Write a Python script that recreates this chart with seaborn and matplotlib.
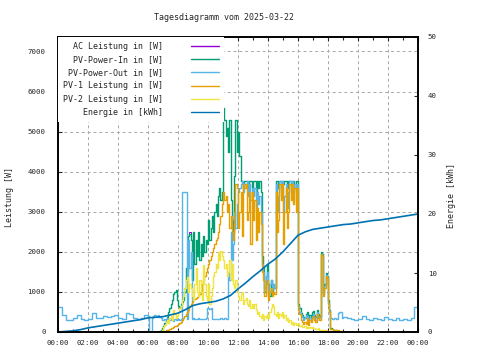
"""
Tagesdiagramm PV-Anlage (gnuplot-Stil) mit seaborn nachgebaut
"""

import matplotlib
matplotlib.use('Agg')

import matplotlib.pyplot as plt
from matplotlib.ticker import MultipleLocator, FuncFormatter
import seaborn as sns
import numpy as np
import pandas as pd

sns.set_style('white')
plt.rcParams['font.family'] = ['DejaVu Sans Mono', 'DejaVu Sans']

TITLE = 'Tagesdiagramm vom 2025-03-22'

# Zeitachsen in Stunden
t_night = np.arange(0, 24) * 0.25         # 00:00 .. 05:45, 15 min
t_day = np.arange(0, 157) / 12 + 6        # 06:00 .. 19:00, 5 min
t_evening = np.arange(1, 21) * 0.25 + 19  # 19:15 .. 24:00, 15 min
t_energy = np.arange(0, 49) * 0.5         # 00:00 .. 24:00, 30 min

# PV-Power-In [W], 06:00 .. 19:00 (eine Zeile je Stunde)
pv_in = [0, 0, 0, 0, 0, 0, 0, 0, 0, 30, 60, 100,
         150, 220, 300, 380, 500, 600, 700, 800, 950, 1000, 1050, 800,
         650, 600, 700, 750, 800, 1000, 1600, 1500, 2400, 2450, 2300, 1300,
         2500, 1700, 2300, 1900, 2500, 1800, 2200, 1900, 2400, 2000, 2300, 2200,
         2800, 2300, 2600, 2900, 2500, 3000, 3200, 2900, 3400, 3600, 3300, 3500,
         5600, 5300, 4900, 5100, 4500, 5300, 3300, 2800, 2500, 3900, 5300, 4500,
         5000, 4400, 3770, 3770, 3600, 3770, 3770, 3770, 3500, 3770, 3770, 3600,
         3770, 3770, 3400, 3770, 3600, 3770, 3500, 1900, 1600, 1000, 1400, 1700,
         1200, 900, 1300, 1000, 1200, 1100, 3770, 3770, 3600, 3770, 3770, 3770,
         3700, 3770, 3770, 3600, 3770, 3770, 3770, 3700, 3770, 3600, 3770, 3770,
         700, 600, 480, 420, 380, 350, 460, 500, 300, 420, 350, 500,
         520, 420, 380, 560, 450, 400, 2000, 1950, 1000, 1200, 1470, 1400,
         800, 550, 100, 80, 60, 50, 40, 30, 20, 10, 0, 0,
         0]

# AC Leistung [W] (liegt fast komplett unter PV-Power-In)
ac_power = [0, 0, 0, 0, 0, 0, 0, 0, 0, 30, 60, 100,
            150, 220, 300, 380, 500, 600, 700, 800, 950, 1000, 1050, 800,
            650, 600, 700, 750, 800, 1000, 1600, 1500, 2400, 2500, 2300, 1300,
            2500, 1700, 2300, 1900, 2500, 1800, 2200, 1900, 2400, 2000, 2300, 2200,
            2800, 2300, 2600, 2900, 2500, 3000, 3200, 2900, 3400, 3600, 3300, 3500,
            5600, 5300, 4900, 5100, 4500, 5300, 3300, 2800, 2500, 3900, 5300, 4500,
            5000, 4400, 3770, 3770, 3600, 3770, 3770, 3770, 3500, 3770, 3770, 3600,
            3770, 3770, 3400, 3770, 3600, 3770, 3500, 1900, 1600, 1000, 1400, 1700,
            1200, 900, 1300, 1000, 1200, 1100, 3770, 3770, 3600, 3770, 3770, 3770,
            3700, 3770, 3770, 3600, 3770, 3770, 3770, 3700, 3770, 3600, 3770, 3770,
            700, 600, 480, 420, 380, 350, 460, 500, 300, 420, 350, 500,
            520, 420, 380, 560, 450, 400, 2000, 1950, 1000, 1200, 1470, 1400,
            800, 550, 100, 80, 60, 50, 40, 30, 20, 10, 0, 0,
            0]

# PV-Power-Out [W]: Nacht (15 min), Tag (5 min), Abend (15 min)
pv_out_night = [620, 420, 300, 300, 350, 420, 330, 300,
                330, 470, 350, 350, 400, 380, 400, 420,
                350, 330, 470, 450, 350, 330, 350, 420]
pv_out_day = [400, 0, 0, 350, 400, 420, 400, 380, 420, 380, 350, 300,
              300, 330, 280, 350, 320, 300, 330, 300, 280, 320, 300, 330,
              330, 300, 320, 3500, 3500, 3500, 3500, 330, 2300, 1600, 2000, 330,
              340, 320, 330, 320, 340, 330, 320, 330, 320, 330, 340, 600,
              600, 580, 600, 330, 320, 330, 320, 330, 320, 330, 340, 320,
              330, 340, 320, 330, 1500, 1300, 2500, 1800, 2200, 3000, 2600, 3200,
              3500, 3600, 3700, 3770, 3500, 3700, 3600, 3770, 3400, 3700, 3300, 3600,
              3400, 3600, 3000, 3500, 3200, 3400, 3000, 1700, 1500, 1100, 1400, 1500,
              950, 1200, 1300, 1050, 1200, 1100, 3700, 3000, 3400, 3770, 3500, 3770,
              3000, 3400, 3700, 3100, 3500, 3770, 3500, 3770, 3500, 3700, 3300, 3700,
              650, 500, 420, 380, 300, 350, 420, 400, 250, 350, 300, 400,
              460, 370, 300, 500, 400, 350, 1950, 1900, 950, 1150, 1430, 1380,
              720, 520, 340, 320, 330, 340, 320, 330, 480, 500, 490, 350,
              380]
pv_out_evening = [360, 330, 300, 330, 400, 320, 300, 350, 330,
                  300, 380, 330, 310, 350, 300, 330, 300, 350, 620, 620]

# PV-1 Leistung [W]
pv1 = [0, 0, 0, 0, 0, 0, 0, 0, 0, 0, 10, 20,
       20, 30, 40, 50, 60, 80, 90, 110, 120, 140, 150, 170,
       200, 230, 250, 300, 350, 400, 450, 500, 550, 650, 700, 750,
       800, 820, 850, 870, 900, 950, 1000, 1200, 1300, 1400, 1500, 1600,
       1700, 1800, 1900, 2000, 2100, 2200, 2300, 2350, 2500, 2700, 2900, 3200,
       3500, 3300, 3400, 3000, 3200, 2600, 2900, 2500, 2300, 2700, 3700, 3600,
       2600, 3000, 3500, 2400, 3700, 3600, 3700, 2800, 3000, 3500, 2200, 3500,
       2800, 3300, 2300, 3100, 2500, 3000, 2700, 1500, 1300, 900, 1200, 1300,
       800, 1000, 1100, 900, 1000, 950, 3500, 2500, 2800, 3700, 3300, 3700,
       2200, 3000, 3600, 2600, 3000, 3700, 3300, 3700, 3200, 3600, 3000, 3600,
       550, 450, 300, 250, 200, 250, 200, 350, 180, 300, 250, 350,
       400, 300, 250, 450, 350, 300, 1950, 1900, 900, 1100, 1400, 1350,
       700, 500, 80, 70, 60, 60, 50, 50, 40, 30, 20, 10,
       0]

# PV-2 Leistung [W]
pv2 = [0, 0, 0, 0, 0, 0, 0, 0, 0, 0, 30, 60,
       120, 180, 250, 300, 220, 350, 400, 300, 550, 450, 350, 400,
       500, 600, 650, 800, 900, 1100, 1300, 1360, 1000, 1200, 1100, 900,
       800, 1200, 1600, 1000, 900, 1300, 1000, 800, 1660, 1200, 900, 800,
       1200, 700, 900, 1100, 1400, 1500, 1700, 1600, 2000, 1800, 2030, 1900,
       1800, 1600, 1700, 1400, 1500, 1800, 1300, 1700, 1200, 1100, 1300, 1000,
       900, 800, 950, 1000, 700, 800, 850, 700, 650, 800, 600, 700,
       600, 700, 550, 450, 500, 400, 350, 450, 300, 400, 350, 450,
       350, 500, 600, 700, 650, 450, 400, 500, 350, 450, 400, 500,
       350, 420, 300, 350, 250, 300, 200, 250, 180, 220, 170, 200,
       220, 150, 170, 120, 130, 140, 100, 120, 110, 130, 100, 120,
       90, 100, 80, 70, 90, 60, 50, 60, 40, 50, 40, 30,
       30, 20, 25, 10, 10, 0, 0, 0, 0, 0, 0, 0,
       0]

# Energie [kWh], alle 30 min
energy = [0, 0.1, 0.2, 0.4, 0.7, 0.9, 1.1, 1.3, 1.5, 1.7, 1.9, 2.1,
          2.4, 2.5, 2.6, 2.9, 3.2, 3.8, 4.5, 4.8, 5.0, 5.2, 5.6, 6.2,
          7.3, 8.3, 9.4, 10.4, 11.5, 12.4, 13.6, 15.0, 16.4, 17.0, 17.4, 17.6,
          17.8, 18.0, 18.2, 18.3, 18.5, 18.7, 18.9, 19.0, 19.2, 19.4, 19.6, 19.8,
          20.0]

labels = ['AC Leistung in [W]', 'PV-Power-In in [W]', 'PV-Power-Out in [W]',
          'PV-1 Leistung in [W]', 'PV-2 Leistung in [W]', 'Energie in [kWh]']
colors = ['#9400d3', '#009e73', '#56b4e9', '#e69f00', '#f0e442', '#0072b2']

t_out = np.concatenate([t_night, t_day, t_evening])
pv_out = pv_out_night + pv_out_day + pv_out_evening

power_series = [
    (t_day, ac_power, 0.7),
    (t_day, pv_in, 1.0),
    (t_out, pv_out, 1.0),
    (t_day, pv1, 1.0),
    (t_day, pv2, 1.0),
]

fig = plt.figure(figsize=(4.8, 3.6), dpi=100)
ax = fig.add_axes([58 / 480, 28 / 360, 360 / 480, 295 / 360])
ax2 = ax.twinx()

handles = []
for (t, vals, lw), color in zip(power_series, colors[:5]):
    df = pd.DataFrame({'t': t, 'v': vals})
    sns.lineplot(data=df, x='t', y='v', ax=ax, color=color, lw=lw,
                 drawstyle='steps-post', errorbar=None, legend=False)
    handles.append(ax.get_lines()[-1])

df_e = pd.DataFrame({'t': t_energy, 'v': energy})
sns.lineplot(data=df_e, x='t', y='v', ax=ax2, color=colors[5], lw=1.2,
             errorbar=None, legend=False)
handles.append(ax2.get_lines()[-1])

# Achsen
ax.set_xlim(0, 24)
ax.set_ylim(0, 7360)
ax2.set_ylim(0, 50)
ax.set_xlabel('')
ax.set_ylabel('')
ax2.set_ylabel('')

ax.xaxis.set_major_locator(MultipleLocator(2))
ax.xaxis.set_minor_locator(MultipleLocator(1))
ax.xaxis.set_major_formatter(FuncFormatter(lambda v, p: f'{int(round(v)) % 24:02d}:00'))
ax.yaxis.set_major_locator(MultipleLocator(1000))
ax2.yaxis.set_major_locator(MultipleLocator(10))

ax.tick_params(axis='x', which='both', direction='in', top=True, bottom=True,
               labelsize=5.3, pad=6, width=0.8)
ax.tick_params(axis='x', which='major', length=3)
ax.tick_params(axis='x', which='minor', length=2)
ax.tick_params(axis='y', direction='in', left=True, right=False,
               labelsize=5.3, pad=9, length=3, width=0.8)
ax2.tick_params(axis='y', direction='in', right=True, left=False,
                labelsize=5.3, pad=7, length=3, width=0.8)

ax.grid(True, which='major', color='#a8a8a8', linestyle=(0, (3, 3)), linewidth=0.7)
for a in (ax, ax2):
    for s in a.spines.values():
        s.set_color('black')
        s.set_linewidth(1.2)

# Legende (rechtsbuendiger Text, dann Linie)
leg = ax2.legend(handles, [l.rjust(20) for l in labels], loc='upper left',
                 bbox_to_anchor=(0, 1), borderaxespad=0, frameon=True,
                 fancybox=False, edgecolor='none', facecolor='white',
                 framealpha=1, markerfirst=False, handlelength=3.4,
                 handletextpad=3.3, labelspacing=0.5, fontsize=6, borderpad=0.6)
for line in leg.get_lines():
    line.set_linewidth(1.0)

fig.text(224 / 480, 1 - 18 / 360, TITLE, ha='center', va='center', fontsize=6)
fig.text(10 / 480, 1 - 197 / 360, 'Leistung [W]', rotation=90,
         ha='center', va='center', fontsize=6)
fig.text(452 / 480, 1 - 195 / 360, 'Energie [kWh]', rotation=90,
         ha='center', va='center', fontsize=6)

fig.savefig('out.png', dpi=100)
plt.close(fig)
